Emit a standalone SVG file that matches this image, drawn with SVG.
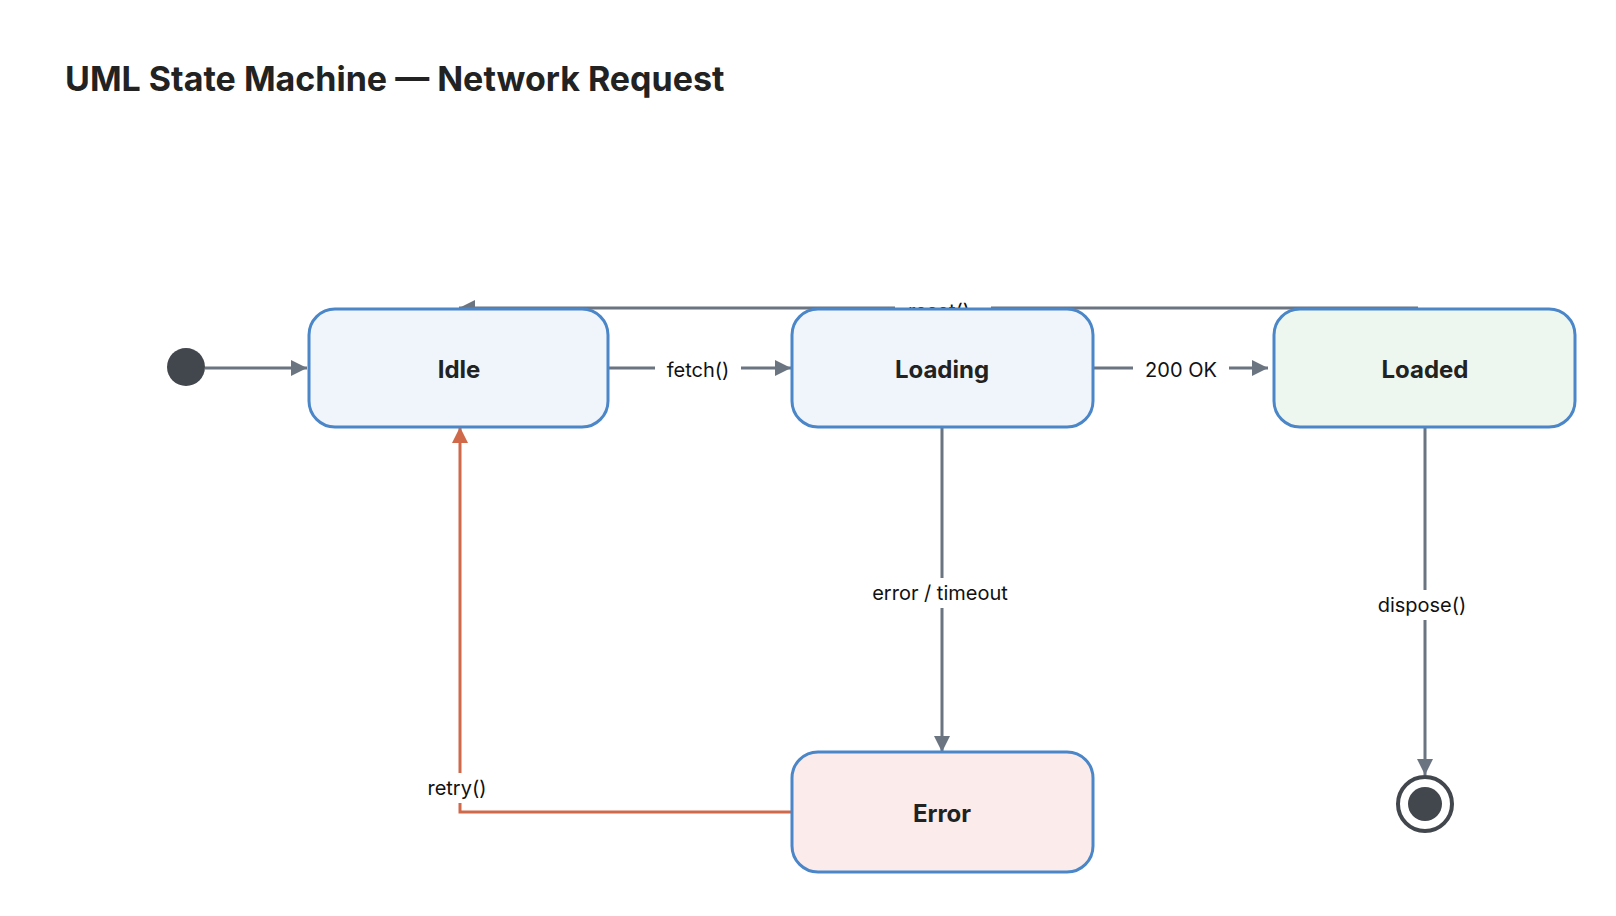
<svg xmlns="http://www.w3.org/2000/svg" width="1616" height="916" viewBox="0 0 1616 916">
<style>
.node{stroke:#4a86c8;stroke-width:3}
.nl{font-family:Inter,"Liberation Sans",sans-serif;font-weight:700;font-size:24px;fill:#222;text-anchor:middle;dominant-baseline:central}
.el{font-family:Inter,"Liberation Sans",sans-serif;font-size:20px;fill:#111;text-anchor:middle;dominant-baseline:central}
.c{fill:none;stroke:#6b7582;stroke-width:3}
.r{fill:none;stroke:#d0694a;stroke-width:3}
</style>
<defs>
<marker id="a" viewBox="0 0 10 10" refX="10" refY="5" markerWidth="6" markerHeight="6" orient="auto-start-reverse" markerUnits="userSpaceOnUse" style="overflow:visible"><path d="M0,0L10,5L0,10z" fill="#6b7582" transform="scale(1.6) translate(-3.75,-1.9)"/></marker>
<marker id="ar" viewBox="0 0 16 16" refX="16" refY="8" markerWidth="16" markerHeight="16" orient="auto" markerUnits="userSpaceOnUse"><path d="M0,0L16,8L0,16z" fill="#d0694a"/></marker>
<marker id="ag" viewBox="0 0 16 16" refX="16" refY="8" markerWidth="16" markerHeight="16" orient="auto" markerUnits="userSpaceOnUse"><path d="M0,0L16,8L0,16z" fill="#6b7582"/></marker>
</defs>
<rect width="1616" height="916" fill="#fff"/>
<text x="65" y="91" font-family="Inter,'Liberation Sans',sans-serif" font-weight="700" font-size="34" fill="#222">UML State Machine — Network Request</text>
<g id="connectors">
<line class="c" x1="205" y1="368" x2="307" y2="368" marker-end="url(#ag)"/>
<line class="c" x1="608" y1="368" x2="791" y2="368" marker-end="url(#ag)"/>
<rect x="655" y="355" width="86" height="28" fill="#fff"/><text class="el" x="698" y="370">fetch()</text>
<line class="c" x1="1093" y1="368" x2="1268" y2="368" marker-end="url(#ag)"/>
<rect x="1133" y="355" width="96" height="28" fill="#fff"/><text class="el" x="1181" y="370">200 OK</text>
<line class="c" x1="1418" y1="308" x2="459" y2="308" marker-end="url(#ag)"/>
<rect x="895" y="296" width="96" height="30" fill="#fff"/><text class="el" x="939" y="311">reset()</text>
<line class="c" x1="942" y1="427" x2="942" y2="752" marker-end="url(#ag)"/>
<rect x="862" y="578" width="158" height="30" fill="#fff"/><text class="el" x="940" y="593">error / timeout</text>
<line class="c" x1="1425" y1="427" x2="1425" y2="775" marker-end="url(#ag)"/>
<rect x="1370" y="590" width="104" height="30" fill="#fff"/><text class="el" x="1422" y="605">dispose()</text>
<polyline class="r" points="791,812 460,812 460,427" marker-end="url(#ar)"/>
<rect x="420" y="773" width="80" height="30" fill="#fff"/><text class="el" x="457" y="788">retry()</text>
</g>
<g id="initial"><circle cx="186" cy="367" r="19" fill="#42464d"/></g>
<g id="idle"><rect class="node" x="309" y="309" width="299" height="118" rx="26" fill="#eff5fa"/><text class="nl" x="459" y="369">Idle</text></g>
<g id="loading"><rect class="node" x="792" y="309" width="301" height="118" rx="26" fill="#eff5fa"/><text class="nl" x="942" y="369">Loading</text></g>
<g id="loaded"><rect class="node" x="1274" y="309" width="301" height="118" rx="26" fill="#edf7ef"/><text class="nl" x="1425" y="369">Loaded</text></g>
<g id="error"><rect class="node" x="792" y="752" width="301" height="120" rx="26" fill="#fbeceb"/><text class="nl" x="942" y="813">Error</text></g>
<g id="final"><circle cx="1425" cy="804" r="27" fill="#fff" stroke="#42464d" stroke-width="4"/><circle cx="1425" cy="804" r="17" fill="#42464d"/></g>
</svg>
